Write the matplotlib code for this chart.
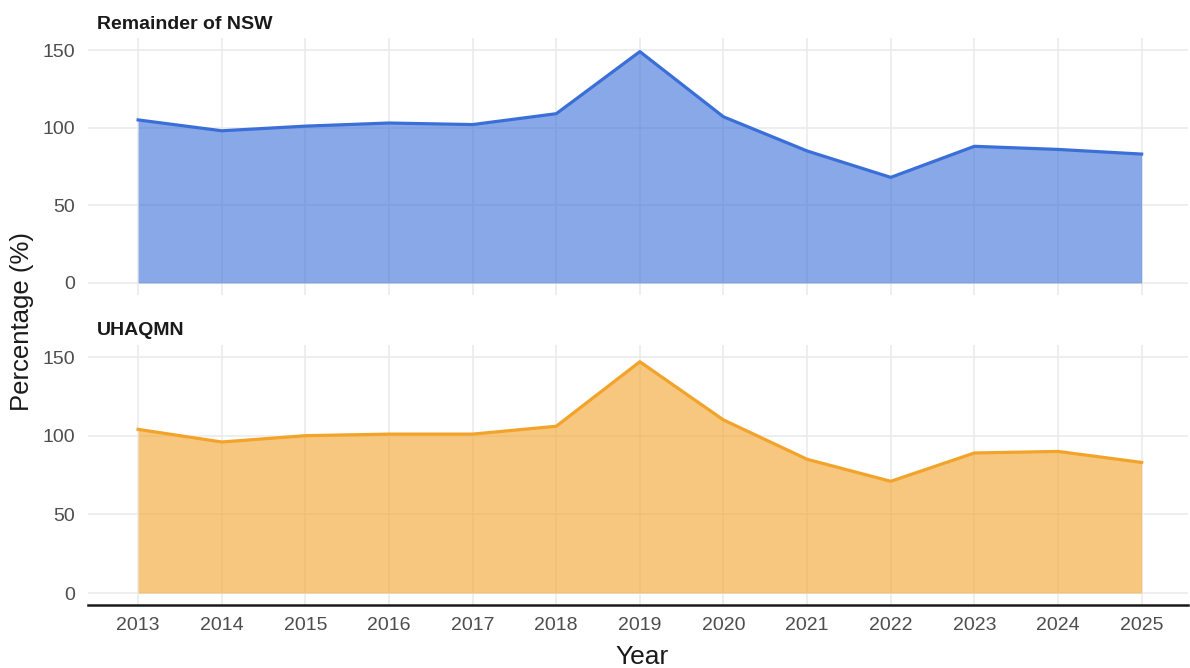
import matplotlib.pyplot as plt
import numpy as np

plt.rcParams['font.family'] = ['Liberation Sans', 'DejaVu Sans']

years = [2013, 2014, 2015, 2016, 2017, 2018, 2019, 2020, 2021, 2022, 2023, 2024, 2025]
nsw = [105, 98, 101, 103, 102, 109, 149, 107, 85, 68, 88, 86, 83]
uhaqmn = [104, 96, 100, 101, 101, 106, 147, 110, 85, 71, 89, 90, 83]
panels = ["Remainder of NSW", "UHAQMN"]
series = [nsw, uhaqmn]
colors = ["#3A6FD8", "#F2A32A"]

fig = plt.figure(figsize=(11.9, 6.68), dpi=100)
ax_top = fig.add_axes([0.0739, 0.559, 0.9241, 0.3835])
ax_bot = fig.add_axes([0.0739, 0.0946, 0.9241, 0.3886])

for ax, name, vals, col in zip([ax_top, ax_bot], panels, series, colors):
    ax.set_axisbelow(True)
    ax.grid(True, color="#ebebeb", linewidth=1.2)
    ax.fill_between(years, 0, vals, color=col, alpha=0.6, linewidth=0)
    ax.plot(years, vals, color=col, linewidth=2.3, solid_joinstyle="round")
    ax.set_xlim(2012.4, 2025.55)
    ax.set_ylim(-7.5, 157.5)
    ax.set_yticks([0, 50, 100, 150])
    ax.set_xticks(years)
    for s in ax.spines.values():
        s.set_visible(False)
    ax.tick_params(axis="y", length=0, labelsize=14, labelcolor="#4d4d4d", pad=9)
    ax.tick_params(axis="x", length=0, labelsize=14, labelcolor="#4d4d4d", pad=9)
    ax.text(0.008, 1.038, name, transform=ax.transAxes, fontsize=14,
            fontweight="bold", color="#1a1a1a", ha="left", va="baseline")

ax_top.tick_params(labelbottom=False)
ax_bot.spines["bottom"].set_visible(True)
ax_bot.spines["bottom"].set_color("#1a1a1a")
ax_bot.spines["bottom"].set_linewidth(1.8)
ax_bot.set_xticklabels([str(y) for y in years])

fig.text(0.5395, 0.006, "Year", fontsize=19, color="#1a1a1a", ha="center", va="baseline")
fig.text(0.0185, 0.519, "Percentage (%)", fontsize=18.5, color="#1a1a1a",
         rotation=90, ha="center", va="center")

fig.savefig("out.png", dpi=100)
